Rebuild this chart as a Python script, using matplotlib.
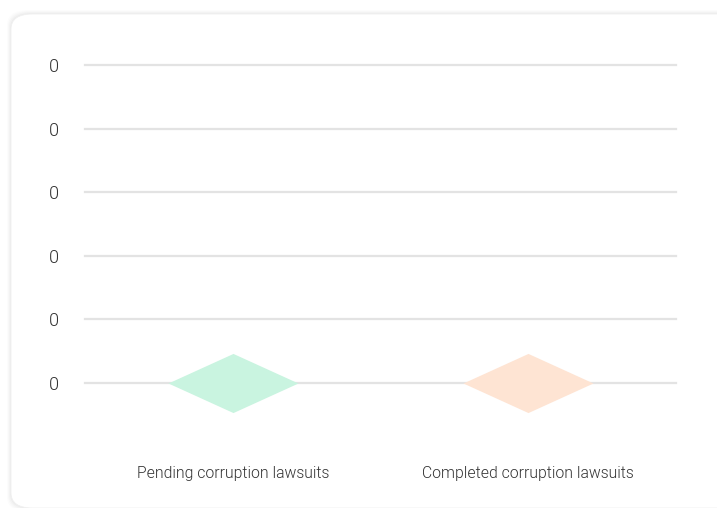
import matplotlib
matplotlib.use('Agg')
import matplotlib.pyplot as plt
from matplotlib.patches import FancyBboxPatch

plt.rcParams['font.family'] = ['Roboto', 'DejaVu Sans']

categories = ['Pending corruption lawsuits', 'Completed corruption lawsuits']
values = [0, 0]
colors = ['#c9f4e0', '#fee4d3']
ytick_values = [0, 0.2, 0.4, 0.6, 0.8, 1.0]
ytick_labels = ['0', '0', '0', '0', '0', '0']

fig = plt.figure(figsize=(7.17, 5.08), dpi=100)
W, H = 717, 508

# card with a soft shadow
for i, a in enumerate([0.012, 0.015, 0.02, 0.025]):
    grow = 4 - i
    shadow = FancyBboxPatch(((11 - grow) / W, (0 - grow) / H), (740 + grow) / W, (494 + 2 * grow) / H,
                            boxstyle='round,pad=0,rounding_size=0.03', transform=fig.transFigure,
                            facecolor='#000000', edgecolor='none', alpha=a, zorder=0)
    fig.patches.append(shadow)
card = FancyBboxPatch((11 / W, 0 / H), 740 / W, 494 / H,
                      boxstyle='round,pad=0,rounding_size=0.03', transform=fig.transFigure,
                      facecolor='white', edgecolor='#f0f0f0', linewidth=0.6, zorder=1)
fig.patches.append(card)

ax = fig.add_axes([85 / W, (H - 383) / H, 591 / W, 318 / H])
ax.set_facecolor('none')
ax.set_zorder(2)

diamond = [(-1, 0), (0, 0.455), (1, 0), (0, -0.455), (-1, 0)]
for i, (v, c) in enumerate(zip(values, colors)):
    ax.plot(i, v, marker=diamond, markersize=93.6, color=c, markeredgewidth=0,
            linestyle='none', clip_on=False, zorder=3)

ax.set_xlim(-0.5, 1.5)
ax.set_ylim(0, 1)
ax.set_yticks(ytick_values)
ax.set_yticklabels(ytick_labels, fontsize=13, color='#333333', fontweight=300)
for y in ytick_values:
    ax.axhline(y, color='#e3e3e3', linewidth=1.6, zorder=1, clip_on=False)

ax.set_xticks(range(len(categories)))
ax.set_xticklabels(categories, fontsize=11.3, color='#333333', fontweight=300)
ax.tick_params(left=False, bottom=False)
ax.tick_params(axis='y', pad=15)
ax.tick_params(axis='x', pad=56.5)
for s in ax.spines.values():
    s.set_visible(False)

fig.savefig('out.png', dpi=100)
